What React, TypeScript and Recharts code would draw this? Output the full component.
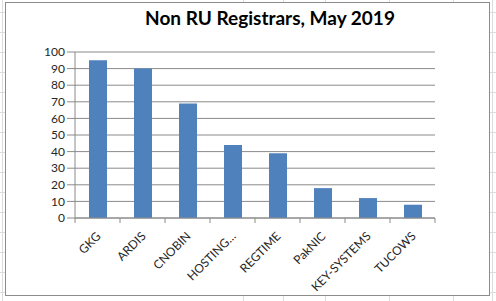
import React from 'react';
import { BarChart, Bar, XAxis, YAxis, CartesianGrid } from 'recharts';

const categories = ['GKG', 'ARDIS', 'CNOBIN', 'HOSTING…', 'REGTIME', 'PakNIC', 'KEY-SYSTEMS', 'TUCOWS'];
const registrations = [95, 90, 69, 44, 39, 18, 12, 8];
const yTicks = [0, 10, 20, 30, 40, 50, 60, 70, 80, 90, 100];
const title = 'Non RU Registrars, May 2019';

const data = categories.map((name, i) => ({ name, value: registrations[i] }));

const AXIS = '#8a8a8a';
const FONT = 'Lato, "Liberation Sans", sans-serif';
const HALF_BAND = 22.5;

const XTick = (props: any) => {
  const { x, y, payload, index } = props;
  const ax = x + 4;
  const ay = y + 19;
  return (
    <g>
      <line x1={x - HALF_BAND} y1={y} x2={x - HALF_BAND} y2={y + 5} stroke={AXIS} />
      {index === categories.length - 1 && (
        <line x1={x + HALF_BAND} y1={y} x2={x + HALF_BAND} y2={y + 5} stroke={AXIS} />
      )}
      <text
        x={ax}
        y={ay}
        textAnchor="end"
        transform={`rotate(-45, ${ax}, ${ay})`}
        fontFamily={FONT}
        fontSize={12}
        fill="#262626"
      >
        {payload.value}
      </text>
    </g>
  );
};

const gridBg =
  'repeating-linear-gradient(to bottom, transparent 0px, transparent 12px, #dcdcdc 12px, #dcdcdc 13px, transparent 13px, transparent 20px)';

const vLines = [2, 243, 283, 325, 389, 453, 492];

export default function App() {
  return (
    <div style={{ position: 'absolute', left: 0, top: 0, width: 496, height: 301, background: '#fff', overflow: 'hidden' }}>
      <div style={{ position: 'absolute', left: 0, top: 0, width: 496, height: 301, backgroundImage: gridBg }} />
      {vLines.map((vx) => (
        <div key={vx} style={{ position: 'absolute', left: vx, top: 0, width: 1, height: 301, background: '#dcdcdc' }} />
      ))}
      <div
        style={{
          position: 'absolute',
          left: 5,
          top: 2,
          width: 485,
          height: 294,
          border: '1px solid #8c8c8c',
          background: '#fff',
          boxSizing: 'border-box',
        }}
      />
      <div style={{ position: 'absolute', left: 0, top: 0 }}>
        <BarChart width={496} height={301} data={data} margin={{ top: 52, right: 61, bottom: 0, left: 0 }}>
          <CartesianGrid vertical={false} stroke={AXIS} strokeDasharray="" />
          <XAxis
            dataKey="name"
            height={83}
            axisLine={{ stroke: AXIS }}
            tickLine={false}
            tickSize={0}
            tickMargin={0}
            interval={0}
            tick={<XTick />}
          />
          <YAxis
            width={75}
            domain={[0, 100]}
            ticks={yTicks}
            interval={0}
            axisLine={{ stroke: AXIS }}
            tickLine={{ stroke: AXIS }}
            tickSize={8}
            tickMargin={2}
            tick={{ fontFamily: FONT, fontSize: 12, fill: '#262626' }}
          />
          <Bar dataKey="value" fill="#4F81BD" barSize={18} isAnimationActive={false} />
        </BarChart>
      </div>
      <svg width={496} height={40} style={{ position: 'absolute', left: 0, top: 0 }}>
        <text x={270} y={25} textAnchor="middle" fontFamily={FONT} fontWeight="bold" fontSize={19} fill="#000">
          {title}
        </text>
      </svg>
    </div>
  );
}
